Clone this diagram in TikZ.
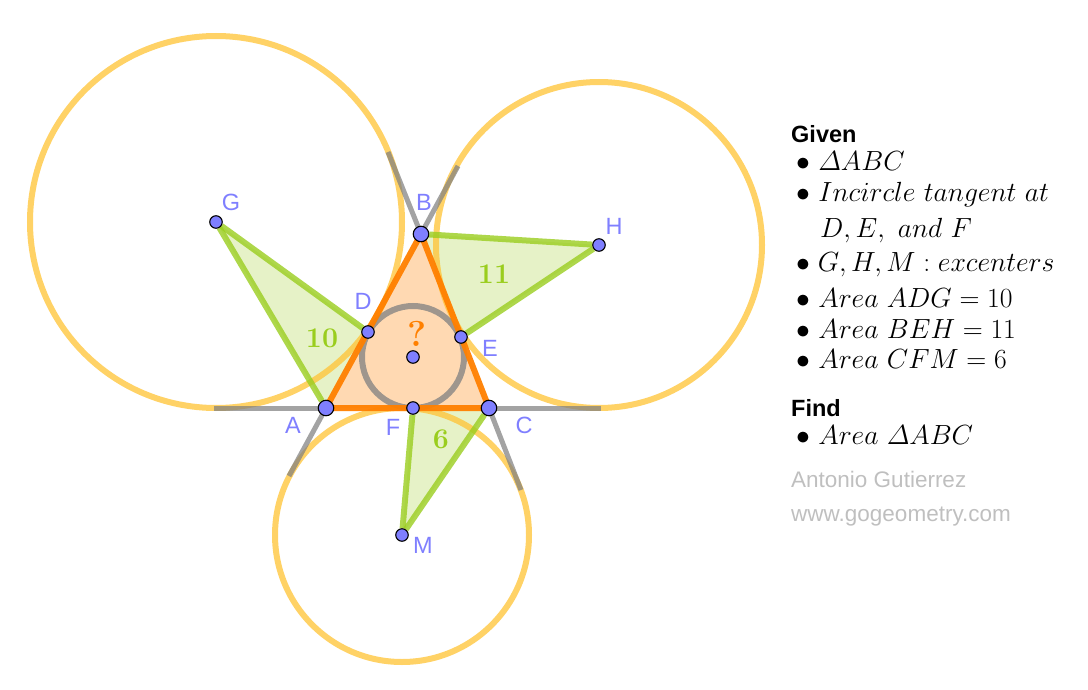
\documentclass[tikz,border=0pt]{standalone}
\usepackage{fix-cm}
\usepackage{fontspec}
\setsansfont{Liberation Sans}
\usetikzlibrary{positioning}
\definecolor{ptblue}{HTML}{7F7FFF}
\definecolor{circyellow}{HTML}{FFC333}
\definecolor{sidegreen}{HTML}{9ACD1E}
\definecolor{sideorange}{HTML}{FF8000}
\tikzset{point/.style={circle, draw = black, fill = ptblue, line width = 1.1pt, inner sep = 0pt, minimum size = 12.5pt},
         bigpoint/.style={point, minimum size = 15.5pt}}
\begin{document}
\begin{tikzpicture}[x=1pt, y=-1pt,
                    excircle/.style = {line width = 6pt, color = circyellow, opacity = 0.75},
                    extension/.style = {line width = 5pt, color = gray, opacity = 0.72},
                    incircle/.style = {line width = 6pt, color = gray, opacity = 0.75},
                    area/.style = {fill = sidegreen, fill opacity = 0.25, draw = none},
                    sidegr/.style = {line width = 6pt, color = sidegreen, opacity = 0.8},
                    tri/.style = {line width = 6pt, color = sideorange, line join = round, opacity = 0.95},
                    ptlabel/.style = {text = ptblue, font = \fontsize{23.5}{26}\sffamily, inner sep = 0pt, anchor = center},
                    areanum/.style = {text = sidegreen, font = \fontsize{28.5}{30}\selectfont\bfseries, inner sep = 0pt},
                    heading/.style = {anchor = base west, font = \fontsize{23.5}{26}\sffamily\bfseries, inner sep = 0pt},
                    listitem/.style = {anchor = base west, font = \fontsize{27.7}{30}\selectfont, inner sep = 0pt},
                    credit/.style = {anchor = base west, text = black!25, font = \fontsize{22.5}{25}\sffamily, inner sep = 0pt}]
    \pgfdeclarelayer{bg}    % background layer
    \pgfsetlayers{bg,main}
    \useasboundingbox (0,0) rectangle (1088,690);
    % points
    \node[bigpoint] (A) at (326,408) {};
    \node[bigpoint] (B) at (421,234) {};
    \node[bigpoint] (C) at (489,408) {};
    \node[point] (D) at (368,332) {};
    \node[point] (E) at (461,337) {};
    \node[point] (F) at (413,408) {};
    \node[point] (I) at (413,357) {};
    \node[point] (G) at (216,222) {};
    \node[point] (H) at (599,245) {};
    \node[point] (M) at (402,535) {};
    % free ends of the extended sides
    \coordinate (AG) at (214,408);
    \coordinate (CH) at (601,408);
    \coordinate (AM) at (289,476);
    \coordinate (CM) at (521,490);
    \coordinate (BG) at (388,152);
    \coordinate (BH) at (458,166);
    \begin{pgfonlayer}{bg}
        \fill[area] (A.center) -- (D.center) -- (G.center) -- cycle;
        \fill[area] (B.center) -- (E.center) -- (H.center) -- cycle;
        \fill[area] (C.center) -- (F.center) -- (M.center) -- cycle;
        \fill[sideorange, fill opacity = 0.3] (A.center) -- (B.center) -- (C.center) -- cycle;
        \draw[excircle] (G) circle[radius = 186];
        \draw[excircle] (H) circle[radius = 163];
        \draw[excircle] (M) circle[radius = 127];
        \draw[incircle] (I) circle[radius = 51];
        \foreach \Start/\End in {A/AG, C/CH, A/AM, C/CM, B/BG, B/BH}
            \draw[extension] (\Start.center) -- (\End);
        \foreach \Start/\End in {G/A, G/D, H/B, H/E, M/F, M/C}
            \draw[sidegr] (\Start) -- (\End);
        \draw[tri] (A.center) -- (B.center) -- (C.center) -- cycle;
    \end{pgfonlayer}
    % labels
    \node[ptlabel] (labA) at (293,425) {A};
    \node[ptlabel] (labB) at (424,202) {B};
    \node[ptlabel] (labC) at (524,425) {C};
    \node[ptlabel] (labD) at (363,301) {D};
    \node[ptlabel] (labE) at (490,348) {E};
    \node[ptlabel] (labF) at (393,427) {F};
    \node[ptlabel] (labG) at (231,202) {G};
    \node[ptlabel] (labH) at (614,226) {H};
    \node[ptlabel] (labM) at (423,545) {M};
    \node[areanum] (area10) at (322,338) {10};
    \node[areanum] (area11) at (494,274) {11};
    \node[areanum] (area6) at (441,439) {6};
    \node[areanum, text = sideorange, font = \fontsize{36}{38}\selectfont\bfseries] (unknown) at (417,334) {?};
    % text on the right
    \node[heading] (given) at (791,143) {Given};
    \node[listitem] (item1) at (796,171) {$\bullet\ \mathnormal{\Delta}ABC$};
    \node[listitem] (item2) at (796,201) {$\bullet\ Incircle\ tangent\ at$};
    \node[listitem] (item3) at (820,237) {$D,E,\ and\ F$};
    \node[listitem] (item4) at (796,272) {$\bullet\;G,H,M:excenters$};
    \node[listitem] (item5) at (796,307) {$\bullet\ Area\ ADG=10$};
    \node[listitem] (item6) at (796,338) {$\bullet\ Area\ BEH=11$};
    \node[listitem] (item7) at (796,368) {$\bullet\ Area\ CFM=6$};
    \node[heading] (find) at (791,416) {Find};
    \node[listitem] (item8) at (796,444) {$\bullet\ Area\ \mathnormal{\Delta}ABC$};
    \node[credit] (author) at (791,487) {Antonio Gutierrez};
    \node[credit] (site) at (791,521) {www.gogeometry.com};
\end{tikzpicture}
\end{document}
